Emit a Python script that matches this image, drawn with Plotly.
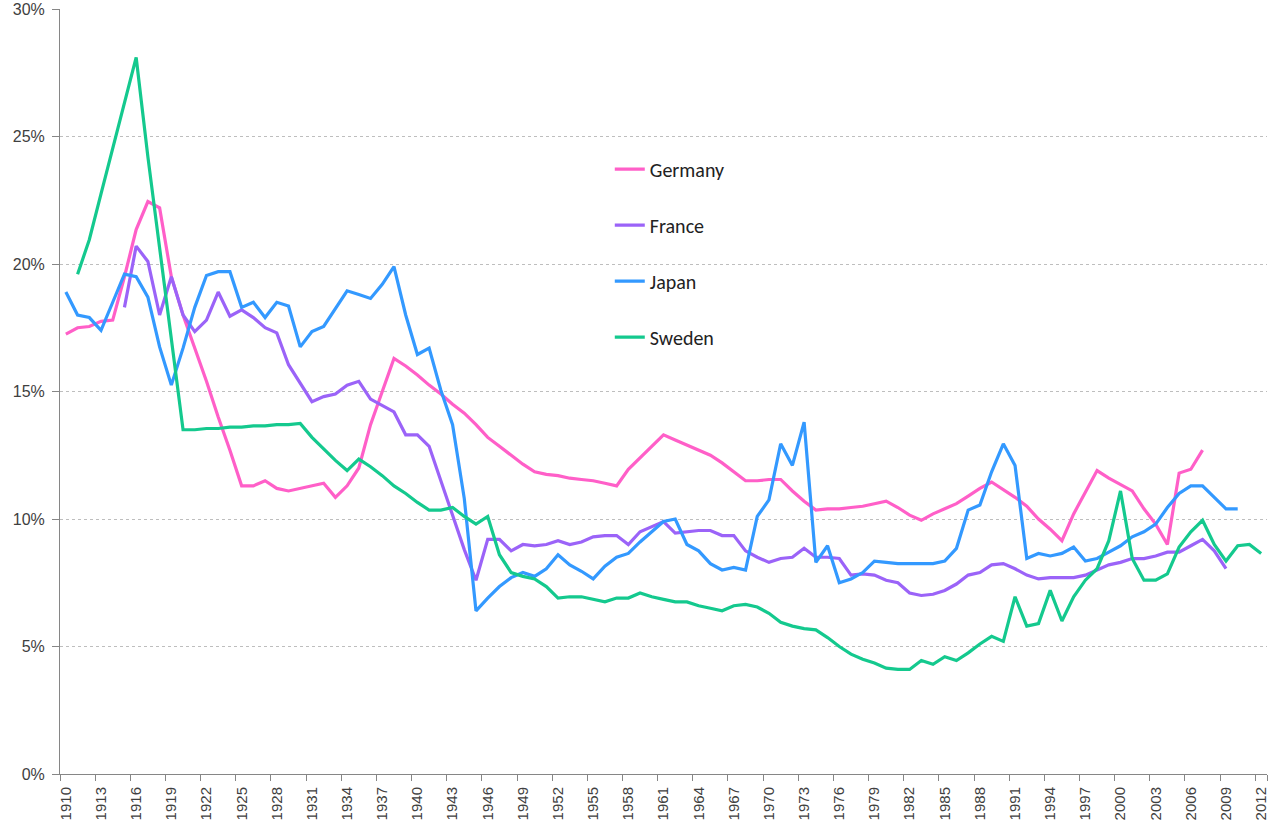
import plotly.graph_objects as go

years = list(range(1910, 2013))
tick_years = years[::3]

germany = [17.25, 17.5, 17.55, 17.75, 17.8, 19.5, 21.35, 22.45, 22.2, 19.5,
           18.0, 16.7, 15.4, 14.0, 12.7, 11.3, 11.3, 11.5, 11.2, 11.1,
           11.2, 11.3, 11.4, 10.85, 11.3, 12.0, 13.7, 15.0, 16.3, 16.0,
           15.65, 15.25, 14.9, 14.5, 14.15, 13.7, 13.2, 12.85, 12.5, 12.15,
           11.85, 11.75, 11.7, 11.6, 11.55, 11.5, 11.4, 11.3, 11.95, 12.4,
           12.85, 13.3, 13.1, 12.9, 12.7, 12.5, 12.2, 11.85, 11.5, 11.5,
           11.55, 11.55, 11.1, 10.7, 10.35, 10.4, 10.4, 10.45, 10.5, 10.6,
           10.7, 10.45, 10.15, 9.95, 10.2, 10.4, 10.6, 10.9, 11.2, 11.45,
           11.15, 10.85, 10.5, 10.0, 9.6, 9.15, 10.2, 11.05, 11.9, 11.6,
           11.35, 11.1, 10.4, 9.8, 9.0, 11.8, 11.95, 12.7,
           None, None, None, None, None]

france = [None, None, None, None, None, 18.3, 20.7, 20.1, 18.0, 19.5,
          18.0, 17.35, 17.8, 18.9, 17.95, 18.2, 17.9, 17.5, 17.3, 16.05,
          15.3, 14.6, 14.8, 14.9, 15.25, 15.4, 14.7, 14.45, 14.2, 13.3,
          13.3, 12.85, 11.5, 10.2, 8.8, 7.6, 9.2, 9.2, 8.75, 9.0,
          8.95, 9.0, 9.15, 9.0, 9.1, 9.3, 9.35, 9.35, 9.0, 9.5,
          9.7, 9.9, 9.45, 9.5, 9.55, 9.55, 9.35, 9.35, 8.75, 8.5,
          8.3, 8.45, 8.5, 8.85, 8.5, 8.5, 8.45, 7.8, 7.85, 7.8,
          7.6, 7.5, 7.1, 7.0, 7.05, 7.2, 7.45, 7.8, 7.9, 8.2,
          8.25, 8.05, 7.8, 7.65, 7.7, 7.7, 7.7, 7.8, 8.0, 8.2,
          8.3, 8.45, 8.45, 8.55, 8.7, 8.7, 8.95, 9.2, 8.75, 8.05,
          None, None, None]

japan = [18.9, 18.0, 17.9, 17.4, 18.5, 19.6, 19.5, 18.7, 16.75, 15.25,
         16.7, 18.3, 19.55, 19.7, 19.7, 18.3, 18.5, 17.9, 18.5, 18.35,
         16.75, 17.35, 17.55, 18.25, 18.95, 18.8, 18.65, 19.2, 19.9, 18.0,
         16.45, 16.7, 15.05, 13.7, 10.8, 6.4, 6.9, 7.35, 7.7, 7.9,
         7.75, 8.05, 8.6, 8.2, 7.95, 7.65, 8.15, 8.5, 8.65, 9.1,
         9.5, 9.9, 10.0, 9.0, 8.75, 8.25, 8.0, 8.1, 8.0, 10.1,
         10.75, 12.95, 12.1, 13.8, 8.3, 8.95, 7.5, 7.65, 7.9, 8.35,
         8.3, 8.25, 8.25, 8.25, 8.25, 8.35, 8.85, 10.35, 10.55, 11.85,
         12.95, 12.1, 8.45, 8.65, 8.55, 8.65, 8.9, 8.35, 8.45, 8.7,
         8.95, 9.3, 9.5, 9.8, 10.45, 11.0, 11.3, 11.3, 10.85, 10.4,
         10.4, None, None]

sweden = [None, 19.6, 20.95, 22.75, 24.5, 26.3, 28.1, 24.2, 20.6, 17.0,
          13.5, 13.5, 13.55, 13.55, 13.6, 13.6, 13.65, 13.65, 13.7, 13.7,
          13.75, 13.2, 12.75, 12.3, 11.9, 12.35, 12.05, 11.7, 11.3, 11.0,
          10.65, 10.35, 10.35, 10.45, 10.1, 9.8, 10.1, 8.6, 7.9, 7.75,
          7.65, 7.35, 6.9, 6.95, 6.95, 6.85, 6.75, 6.9, 6.9, 7.1,
          6.95, 6.85, 6.75, 6.75, 6.6, 6.5, 6.4, 6.6, 6.65, 6.55,
          6.3, 5.95, 5.8, 5.7, 5.65, 5.35, 5.0, 4.7, 4.5, 4.35,
          4.15, 4.1, 4.1, 4.45, 4.3, 4.6, 4.45, 4.75, 5.1, 5.4,
          5.2, 6.95, 5.8, 5.9, 7.2, 6.0, 6.95, 7.6, 8.05, 9.15,
          11.1, 8.45, 7.6, 7.6, 7.85, 8.9, 9.5, 9.95, 9.0, 8.35,
          8.95, 9.0, 8.65]

series = [
    ("Germany", germany, "#FF5FC8"),
    ("France", france, "#9B63F8"),
    ("Japan", japan, "#3399FF"),
    ("Sweden", sweden, "#14C98E"),
]

fig = go.Figure()
for name, vals, col in series:
    fig.add_trace(go.Scatter(
        x=years, y=vals, name=name, mode="lines",
        line=dict(color=col, width=3.2), legendgroup=name,
        connectgaps=False,
    ))

axis_col = "#868686"
fig.update_layout(
    width=1273, height=828,
    margin=dict(l=60, r=6, t=9, b=54),
    plot_bgcolor="white", paper_bgcolor="white",
    font=dict(family="Arial, Liberation Sans", color="#404040"),
    showlegend=True,
    legend=dict(
        x=0.4555, y=0.8163, xanchor="left", yanchor="top",
        font=dict(family="Carlito, Lato, Open Sans", size=20, color="#222222"),
        tracegroupgap=27, bgcolor="rgba(0,0,0,0)",
    ),
)
fig.update_xaxes(
    range=[1909.5, 2012.5], automargin=False,
    tickmode="array", tickvals=tick_years, ticktext=[str(y) for y in tick_years],
    tickangle=-90, ticks="", ticklabelstandoff=6,
    tickfont=dict(size=15, color="#404040"),
    showline=True, linecolor=axis_col, linewidth=1,
    showgrid=False, zeroline=False,
    minor=dict(tickmode="array", tickvals=[y - 0.5 for y in tick_years] + [2012.5],
               ticks="outside", ticklen=6, tickcolor=axis_col, showgrid=False),
)
fig.update_yaxes(
    range=[0, 30], automargin=False,
    tickmode="linear", tick0=0, dtick=5, ticksuffix="%",
    ticks="outside", ticklen=7, tickcolor=axis_col, ticklabelstandoff=4,
    tickfont=dict(size=16, color="#404040"),
    showline=True, linecolor=axis_col, linewidth=1,
    showgrid=True, gridcolor="#BEBEBE", griddash="dot", gridwidth=1,
    zeroline=False,
)

fig.write_html("out.html", config={"displayModeBar": False},
               post_script="document.body.style.margin='0';")
